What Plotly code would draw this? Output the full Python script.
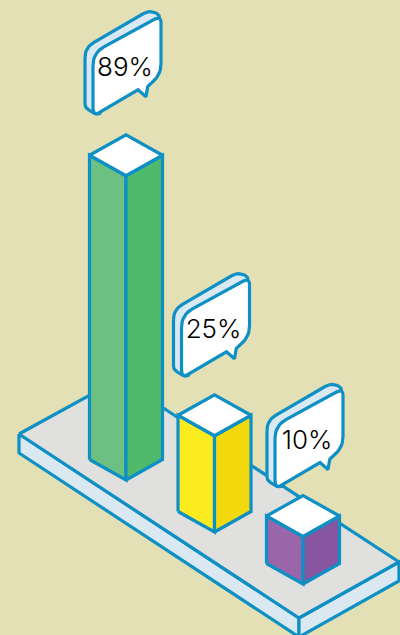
import plotly.graph_objects as go

# Chart data
labels = ["89%", "25%", "10%"]
values = [89, 25, 10]
left_colors = ["#6CC182", "#FBEB1F", "#9A65A9"]
right_colors = ["#4FB96C", "#F2D90E", "#8855A0"]

# Isometric layout, in pixels of the 400x635 plot area
BACKGROUND = "#E2E0B4"
STROKE = "#0E90C4"
SLAB_TOP = "#E0E0DE"
SLAB_SIDE = "#DAE8F2"
LINE_W = 3.2

slab_left, slab_back, slab_right, slab_front = (19, 434), (119, 379), (399, 562), (299, 618)
slab_depth = 19

bar_origin = (126, 480)          # front-bottom corner of the first bar
bar_step = (88.5, 52)            # shift between neighbouring bars
half_w, half_d = 36.5, 20.5      # half extents of the rhombic footprint
z_base, z_per_unit = 15, 3.25    # height = z_base + z_per_unit * value
bubble_nudge = [(0, 1), (0, 3), (5, 13)]


def rounded(vertices):
    """Closed outline through (x, y, radius) vertices, corners eased with quadratic curves."""
    xs, ys = [], []
    n = len(vertices)
    for i, (x, y, r) in enumerate(vertices):
        px, py, _ = vertices[i - 1]
        nx, ny, _ = vertices[(i + 1) % n]
        if r == 0:
            xs.append(x)
            ys.append(y)
            continue
        d1 = ((px - x) ** 2 + (py - y) ** 2) ** 0.5
        d2 = ((nx - x) ** 2 + (ny - y) ** 2) ** 0.5
        ax, ay = x + (px - x) * r / d1, y + (py - y) * r / d1
        bx, by = x + (nx - x) * r / d2, y + (ny - y) * r / d2
        for k in range(9):
            t = k / 8
            xs.append((1 - t) ** 2 * ax + 2 * t * (1 - t) * x + t ** 2 * bx)
            ys.append((1 - t) ** 2 * ay + 2 * t * (1 - t) * y + t ** 2 * by)
    return xs + xs[:1], ys + ys[:1]


def shape(fig, xs, ys, fill):
    fig.add_trace(go.Scatter(
        x=list(xs), y=list(ys), mode="lines", fill="toself", fillcolor=fill,
        line=dict(color=STROKE, width=LINE_W), hoverinfo="skip", showlegend=False,
    ))


def poly(fig, points, fill):
    xs = [p[0] for p in points] + [points[0][0]]
    ys = [p[1] for p in points] + [points[0][1]]
    shape(fig, xs, ys, fill)


# Bubble outlines, relative to the front-top corner of the bar they belong to
BUBBLE_FRONT = [(-33, -124, 13), (35, -161, 7), (35, -100, 13), (22, -92, 3),
                (20, -80, 0), (12, -87, 0), (-33, -60, 9)]
BUBBLE_BACK = [(-41, -129, 10), (24, -167, 8), (35, -161, 5), (-25, -64, 0),
               (-29, -62, 3), (-41, -69, 4)]
BUBBLE_TEXT = (-1, -108)

fig = go.Figure()

# Slab the bars stand on
poly(fig, [slab_left, slab_front, (slab_front[0], slab_front[1] + slab_depth),
           (slab_left[0], slab_left[1] + slab_depth)], SLAB_SIDE)
poly(fig, [slab_front, slab_right, (slab_right[0], slab_right[1] + slab_depth),
           (slab_front[0], slab_front[1] + slab_depth)], SLAB_SIDE)
poly(fig, [slab_left, slab_back, slab_right, slab_front], SLAB_TOP)

for i, (value, label) in enumerate(zip(values, labels)):
    fx = bar_origin[0] + i * bar_step[0]
    fy = bar_origin[1] + i * bar_step[1]
    h = z_base + z_per_unit * value
    top = fy - h

    poly(fig, [(fx - half_w, fy - half_d), (fx, fy), (fx, top), (fx - half_w, top - half_d)], left_colors[i])
    poly(fig, [(fx, fy), (fx + half_w, fy - half_d), (fx + half_w, top - half_d), (fx, top)], right_colors[i])
    poly(fig, [(fx, top), (fx - half_w, top - half_d), (fx, top - 2 * half_d), (fx + half_w, top - half_d)], "#FFFFFF")

    bx, by = fx + bubble_nudge[i][0], top + bubble_nudge[i][1]
    for outline, fill in ((BUBBLE_BACK, SLAB_SIDE), (BUBBLE_FRONT, "#FFFFFF")):
        xs, ys = rounded([(bx + dx, by + dy, r) for dx, dy, r in outline])
        shape(fig, xs, ys, fill)

    fig.add_trace(go.Scatter(
        x=[bx + BUBBLE_TEXT[0]], y=[by + BUBBLE_TEXT[1] + 1], mode="text", text=[label],
        textfont=dict(family="Inter", size=26, color="#000000", weight=300),
        textposition="middle center", hoverinfo="skip", showlegend=False,
    ))

fig.update_layout(
    width=400, height=635, margin=dict(l=0, r=0, t=0, b=0),
    paper_bgcolor=BACKGROUND, plot_bgcolor=BACKGROUND, showlegend=False,
    xaxis=dict(range=[0, 400], visible=False, fixedrange=True),
    yaxis=dict(range=[635, 0], visible=False, fixedrange=True),
)

fig.write_html("out.html", config={"displayModeBar": False})
